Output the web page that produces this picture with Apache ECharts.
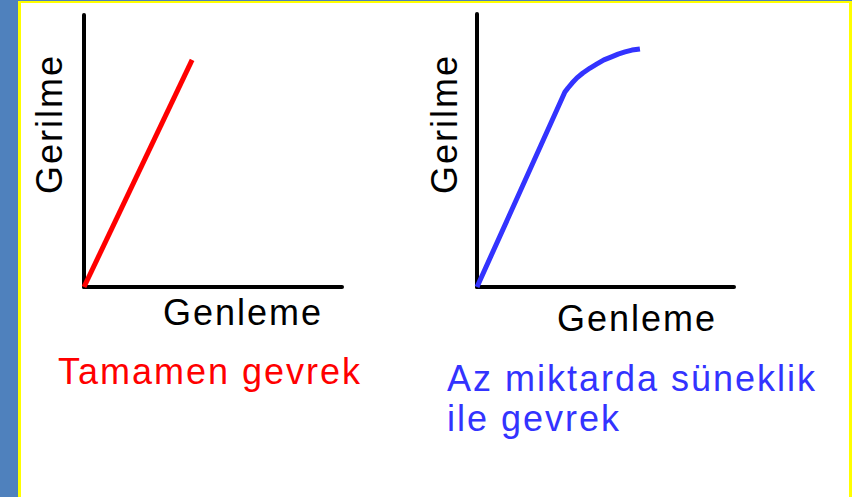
<!DOCTYPE html>
<html>
<head>
<meta charset="utf-8">
<title>Gerilme - Genleme</title>
<script src="https://cdn.jsdelivr.net/npm/echarts@6/dist/echarts.min.js"></script>
<style>
	html, body { margin: 0; padding: 0; background: #4f81bd; }
	#frame {
		position: absolute; left: 18px; top: 1px; width: 828px; height: 496px;
		border-top: 2px solid #ffff00; border-left: 3px solid #ffff00; border-right: 3px solid #ffff00;
		background: #ffffff;
	}
	#chart { position: absolute; left: -21px; top: -3px; width: 852px; height: 497px; }
	/* the slide text is a bit more spread out than plain Arial */
	#chart text { letter-spacing: 2px; }
</style>
</head>
<body>
<div id="frame"><div id="chart"></div></div>
<script>
// curve values (0-100 on both axes)
var brittleStrain = [0, 41.9];
var brittleStress = [0, 83.5];

var ductileStrain = [0, 34.2, 35.4, 37.0, 38.9, 41.2, 44.0, 46.7, 49.4, 52.1, 54.9, 57.6, 60.3, 63.4];
var ductileStress = [0, 71.4, 72.9, 74.7, 76.6, 78.4, 80.2, 81.7, 83.2, 84.2, 85.3, 86.1, 86.8, 87.2];

var axisTitleX = 'Genleme';
var axisTitleY = 'Gerilme';
var captionLeft = 'Tamamen gevrek';
var captionRight = ['Az miktarda süneklik', 'ile gevrek'];

var font = '"Liberation Sans", Arial, sans-serif';

function pairs(xs, ys) {
	return xs.map(function(x, i) { return [x, ys[i]]; });
}

function valueAxis(idx) {
	return {
		type: 'value', gridIndex: idx, min: 0, max: 100,
		axisLine: { show: true, onZero: false, lineStyle: { color: '#000', width: 4 } },
		axisTick: { show: false }, axisLabel: { show: false }, splitLine: { show: false }
	};
}

function label(text, x, y, color, align, rot) {
	return {
		type: 'text', x: x, y: y, rotation: rot || 0,
		style: {
			text: text, fill: color, font: '36px ' + font,
			textAlign: align || 'center', textVerticalAlign: 'middle'
		}
	};
}

document.addEventListener('DOMContentLoaded', function() {
	var chart = echarts.init(document.getElementById('chart'), null, { renderer: 'svg' });

	var option = {
		animation: false,
		grid: [
			{ left: 84, top: 15, width: 258, height: 272 },
			{ left: 477, top: 14, width: 257, height: 273 }
		],
		xAxis: [valueAxis(0), valueAxis(1)],
		yAxis: [valueAxis(0), valueAxis(1)],
		series: [
			{
				type: 'line', xAxisIndex: 0, yAxisIndex: 0, symbol: 'none',
				lineStyle: { color: '#ff0000', width: 5 },
				data: pairs(brittleStrain, brittleStress)
			},
			{
				type: 'line', xAxisIndex: 1, yAxisIndex: 1, symbol: 'none',
				lineStyle: { color: '#3333ff', width: 5, join: 'round' },
				data: pairs(ductileStrain, ductileStress)
			}
		],
		graphic: [
			label(axisTitleY, 49, 124, '#000', 'center', Math.PI / 2),
			label(axisTitleY, 444, 124, '#000', 'center', Math.PI / 2),
			label(axisTitleX, 243, 312, '#000'),
			label(axisTitleX, 637, 318, '#000'),
			label(captionLeft, 58, 371, '#ff0000', 'left'),
			label(captionRight[0], 447, 378, '#3333ff', 'left'),
			label(captionRight[1], 447, 418, '#3333ff', 'left')
		]
	};

	chart.setOption(option);
});
</script>
</body>
</html>
